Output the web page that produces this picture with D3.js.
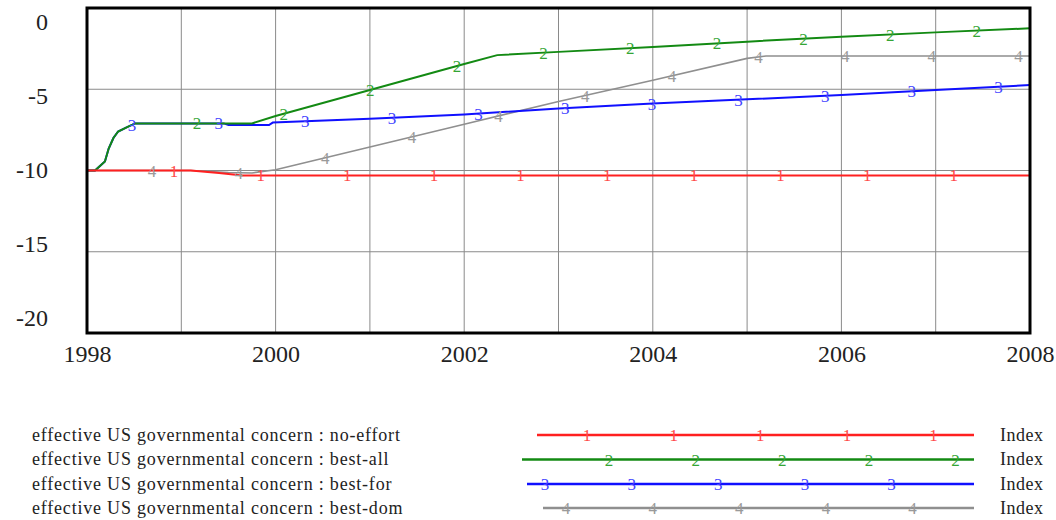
<!DOCTYPE html>
<html>
<head>
<meta charset="utf-8">
<script src="https://cdn.jsdelivr.net/npm/d3@7"></script>
<style>
  html, body { margin: 0; padding: 0; background: #fff; }
  svg { display: block; }
  text { font-family: "Liberation Serif", "Times New Roman", serif; }
</style>
</head>
<body>
<svg id="chart" width="1056" height="520"></svg>
<script>
// Simulation output: effective US governmental concern, four policy runs
const seriesNames = ["no-effort", "best-all", "best-for", "best-dom"];
const seriesLabels = ["1", "2", "3", "4"];

const noEffortTime  = [1998, 1999.1, 1999.4, 1999.65, 2008];
const noEffortValue = [-10, -10, -10.15, -10.3, -10.3];

const bestAllTime  = [1998, 1998.085, 1998.19, 1998.23, 1998.28, 1998.33, 1998.42, 1998.51, 1999.75, 2000, 2001, 2002, 2002.35, 2003, 2004, 2005, 2006, 2007, 2008];
const bestAllValue = [-10, -10, -9.45, -8.65, -8.0, -7.6, -7.35, -7.1, -7.1, -6.65, -5.05, -3.45, -2.9, -2.7, -2.4, -2.07, -1.77, -1.5, -1.25];

const bestForTime  = [1998, 1998.085, 1998.19, 1998.23, 1998.28, 1998.33, 1998.42, 1998.51, 1999.45, 1999.5, 1999.93, 1999.97, 2001, 2002, 2003, 2004, 2005, 2006, 2007, 2008];
const bestForValue = [-10, -10, -9.45, -8.65, -8.0, -7.6, -7.35, -7.1, -7.1, -7.2, -7.2, -7.05, -6.82, -6.55, -6.18, -5.87, -5.62, -5.35, -5.05, -4.74];

const bestDomTime  = [1998, 1999.1, 1999.5, 1999.75, 2000, 2001, 2002, 2003, 2004, 2005, 2005.2, 2008];
const bestDomValue = [-10, -10, -10.12, -10.15, -9.95, -8.55, -7.15, -5.75, -4.45, -3.1, -2.95, -2.95];

const xTicks = [1998, 2000, 2002, 2004, 2006, 2008];
const yTicks = [0, -5, -10, -15, -20];
const unitLabel = "Index";
const legendPrefix = "effective US governmental concern : ";

// ---- layout & style ----
const plot = { left: 87, right: 1030, top: 8, bottom: 333 };
const colors = ["#ff2020", "#138a13", "#1010ff", "#8f8f8f"];
const markColors = ["#ff4a4a", "#34a534", "#4545ff", "#9a9a9a"];
const markStartPx = [174, 197, 132, 152];   // first label position per run
const markStepPx = 86.65;
const legendRows = [435, 459.5, 484, 508];
const legendLineStart = [537, 522, 527, 543];
const legendLineEnd = 974;
const legendMarkStart = [587, 609, 545, 566];
const markFont = "'Liberation Sans Narrow', 'DejaVu Sans Condensed', sans-serif";

const svg = d3.select("#chart");

const x = d3.scaleLinear().domain([1998, 2008]).range([plot.left, plot.right]);
const y = d3.scaleLinear().domain([0, -20]).range([plot.top, plot.bottom]);
const yLabelPos = d3.scaleLinear().domain([0, -20]).range([22, 318]);

const series = [
  { t: noEffortTime, v: noEffortValue },
  { t: bestAllTime, v: bestAllValue },
  { t: bestForTime, v: bestForValue },
  { t: bestDomTime, v: bestDomValue }
].map((s, i) => ({
  name: seriesNames[i],
  label: seriesLabels[i],
  color: colors[i],
  markColor: markColors[i],
  points: s.t.map((t, k) => ({ t, v: s.v[k] }))
}));

// grid
const grid = svg.append("g").attr("stroke", "#8a8a8a").attr("stroke-width", 1);
grid.selectAll("line.v").data(d3.range(1999, 2008)).join("line")
  .attr("x1", d => x(d)).attr("x2", d => x(d))
  .attr("y1", plot.top).attr("y2", plot.bottom);
grid.selectAll("line.h").data([-5, -10, -15]).join("line")
  .attr("x1", plot.left).attr("x2", plot.right)
  .attr("y1", d => y(d)).attr("y2", d => y(d));

// lines (run 1 ends up on top)
const line = d3.line().x(d => x(d.t)).y(d => y(d.v));
svg.append("g").selectAll("path").data(series.slice().reverse()).join("path")
  .attr("d", d => line(d.points))
  .attr("fill", "none")
  .attr("stroke", d => d.color)
  .attr("stroke-width", d => d.name === "best-dom" ? 1.6 : 2);

// run labels along each line
function valueAt(points, t) {
  const i = d3.bisector(d => d.t).right(points, t);
  if (i <= 0) return points[0].v;
  if (i >= points.length) return points[points.length - 1].v;
  const a = points[i - 1], b = points[i];
  return a.v + (b.v - a.v) * (t - a.t) / (b.t - a.t);
}
const marks = [];
series.forEach((s, i) => {
  for (let px = markStartPx[i]; px <= plot.right - 8; px += markStepPx) {
    const t = x.invert(px);
    marks.push({ s, px, py: y(valueAt(s.points, t)) });
  }
});
svg.append("g").selectAll("text").data(marks).join("text")
  .attr("x", d => d.px).attr("y", d => d.py)
  .attr("dy", "0.36em")
  .attr("text-anchor", "middle")
  .attr("font-family", markFont)
  .attr("font-size", 17)
  .attr("fill", d => d.s.markColor)
  .text(d => d.s.label);

// frame
svg.append("rect")
  .attr("x", plot.left).attr("y", plot.top)
  .attr("width", plot.right - plot.left).attr("height", plot.bottom - plot.top)
  .attr("fill", "none").attr("stroke", "#000").attr("stroke-width", 3);

// axis labels
svg.append("g").selectAll("text").data(yTicks).join("text")
  .attr("x", 48).attr("y", d => yLabelPos(d)).attr("dy", "0.35em")
  .attr("text-anchor", "end").attr("font-size", 24).attr("fill", "#222")
  .text(d => String(d));

const xAxis = svg.append("g")
  .attr("transform", `translate(0,${plot.bottom})`)
  .call(d3.axisBottom(x).tickValues(xTicks).tickFormat(d => String(d)).tickSize(0).tickPadding(12));
xAxis.select(".domain").remove();
xAxis.selectAll("text")
  .attr("font-family", "'Liberation Serif', 'Times New Roman', serif")
  .attr("font-size", 24).attr("fill", "#222");

// legend
const legend = svg.append("g");
series.forEach((s, i) => {
  const yy = legendRows[i];
  legend.append("text")
    .attr("x", 32).attr("y", yy).attr("dy", "0.33em")
    .attr("font-size", 18).attr("letter-spacing", 0.8).attr("fill", "#222")
    .text(legendPrefix + s.name);
  legend.append("line")
    .attr("x1", legendLineStart[i]).attr("x2", legendLineEnd)
    .attr("y1", yy).attr("y2", yy)
    .attr("stroke", s.color).attr("stroke-width", 2.4);
  legend.selectAll(null).data(d3.range(5)).join("text")
    .attr("x", k => legendMarkStart[i] + k * markStepPx)
    .attr("y", yy).attr("dy", "0.36em")
    .attr("text-anchor", "middle")
    .attr("font-family", markFont)
    .attr("font-size", 17).attr("fill", s.markColor)
    .text(s.label);
  legend.append("text")
    .attr("x", 1000).attr("y", yy).attr("dy", "0.33em")
    .attr("font-size", 18).attr("letter-spacing", 0.5).attr("fill", "#222")
    .text(unitLabel);
});
</script>
</body>
</html>
